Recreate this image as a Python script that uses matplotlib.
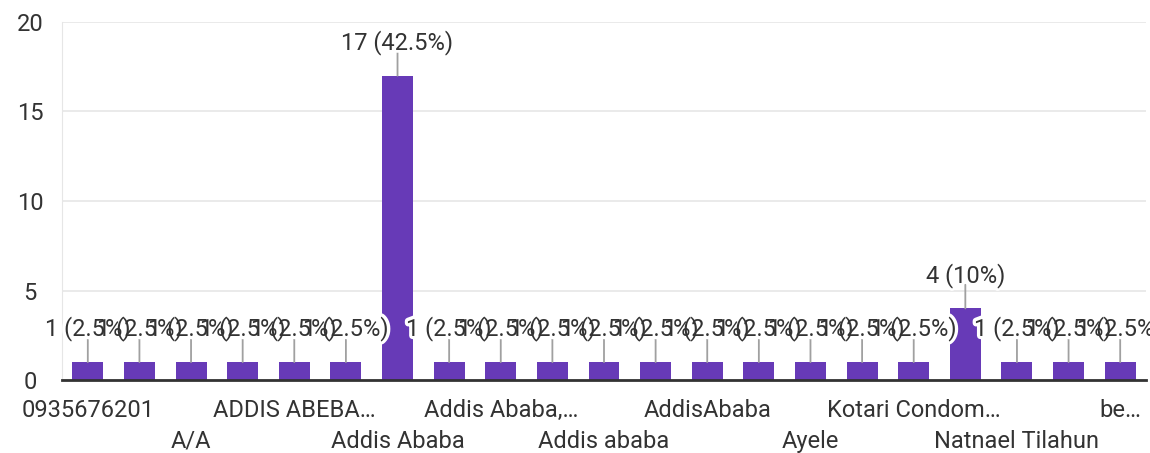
import matplotlib
matplotlib.use("Agg")
import matplotlib.pyplot as plt
import matplotlib.patheffects as pe
import numpy as np

plt.rcParams['font.family'] = ['Roboto', 'DejaVu Sans']

# datos
categories = ["0935676201", "", "A/A", "", "ADDIS ABEBA…", "", "Addis Ababa", "",
              "Addis Ababa,…", "", "Addis ababa", "", "AddisAbaba", "", "Ayele", "",
              "Kotari Condom…", "", "Natnael Tilahun", "", "be…"]
counts = [1, 1, 1, 1, 1, 1, 17, 1, 1, 1, 1, 1, 1, 1, 1, 1, 1, 4, 1, 1, 1]
total = sum(counts)
yticks = [0, 5, 10, 15, 20]

purple = '#673ab7'
txt = '#333333'

fig = plt.figure(figsize=(11.5, 4.53), dpi=100)
ax = fig.add_axes([62 / 1150, 73 / 453, 1084 / 1150, 358 / 453])

x = np.arange(len(counts))
ax.bar(x, counts, width=0.6, color=purple, zorder=2)

ax.set_xlim(-0.5, len(counts) - 0.5)
ax.set_ylim(0, 20)
ax.set_yticks(yticks)
ax.set_yticklabels([str(t) for t in yticks], ha='center')
ax.tick_params(axis='y', length=0, pad=23, labelsize=17, labelcolor=txt)
ax.set_xticks([])
ax.grid(axis='y', color='#e6e6e6', linewidth=1.2, zorder=0)
for s in ['top', 'right']:
    ax.spines[s].set_visible(False)
ax.spines['left'].set_color('#e6e6e6')
ax.spines['bottom'].set_color('#333333')
ax.spines['bottom'].set_linewidth(2)
ax.spines['bottom'].set_zorder(3)

# etiquetas de valor: primero el halo blanco, luego el texto encima de todos los halos
for i, v in enumerate(counts):
    pct = 100 * v / total
    pct_s = f"{pct:.1f}".rstrip('0').rstrip('.')
    label = f"{v} ({pct_s}%)"
    ax.annotate('', xy=(i, v), xytext=(0, 17), textcoords='offset points',
                arrowprops=dict(arrowstyle='-', color='#a0a0a0', lw=1.3,
                                shrinkA=0, shrinkB=0), zorder=3)
    ax.annotate(label, xy=(i, v), xytext=(0, 24),
                textcoords='offset points', ha='center', va='center',
                fontsize=17, color='white', zorder=5,
                path_effects=[pe.withStroke(linewidth=5, foreground='white')])
    ax.annotate(label, xy=(i, v), xytext=(0, 24),
                textcoords='offset points', ha='center', va='center',
                fontsize=17, color=txt, zorder=6)

# etiquetas del eje x en dos filas
for i, c in enumerate(categories):
    if not c:
        continue
    row = (i // 2) % 2
    ax.annotate(c, xy=(i, 0), xycoords=('data', 'axes fraction'),
                xytext=(0, -22 - row * 22), textcoords='offset points',
                ha='center', va='center', fontsize=17, color=txt)

fig.savefig('out.png', dpi=100)
